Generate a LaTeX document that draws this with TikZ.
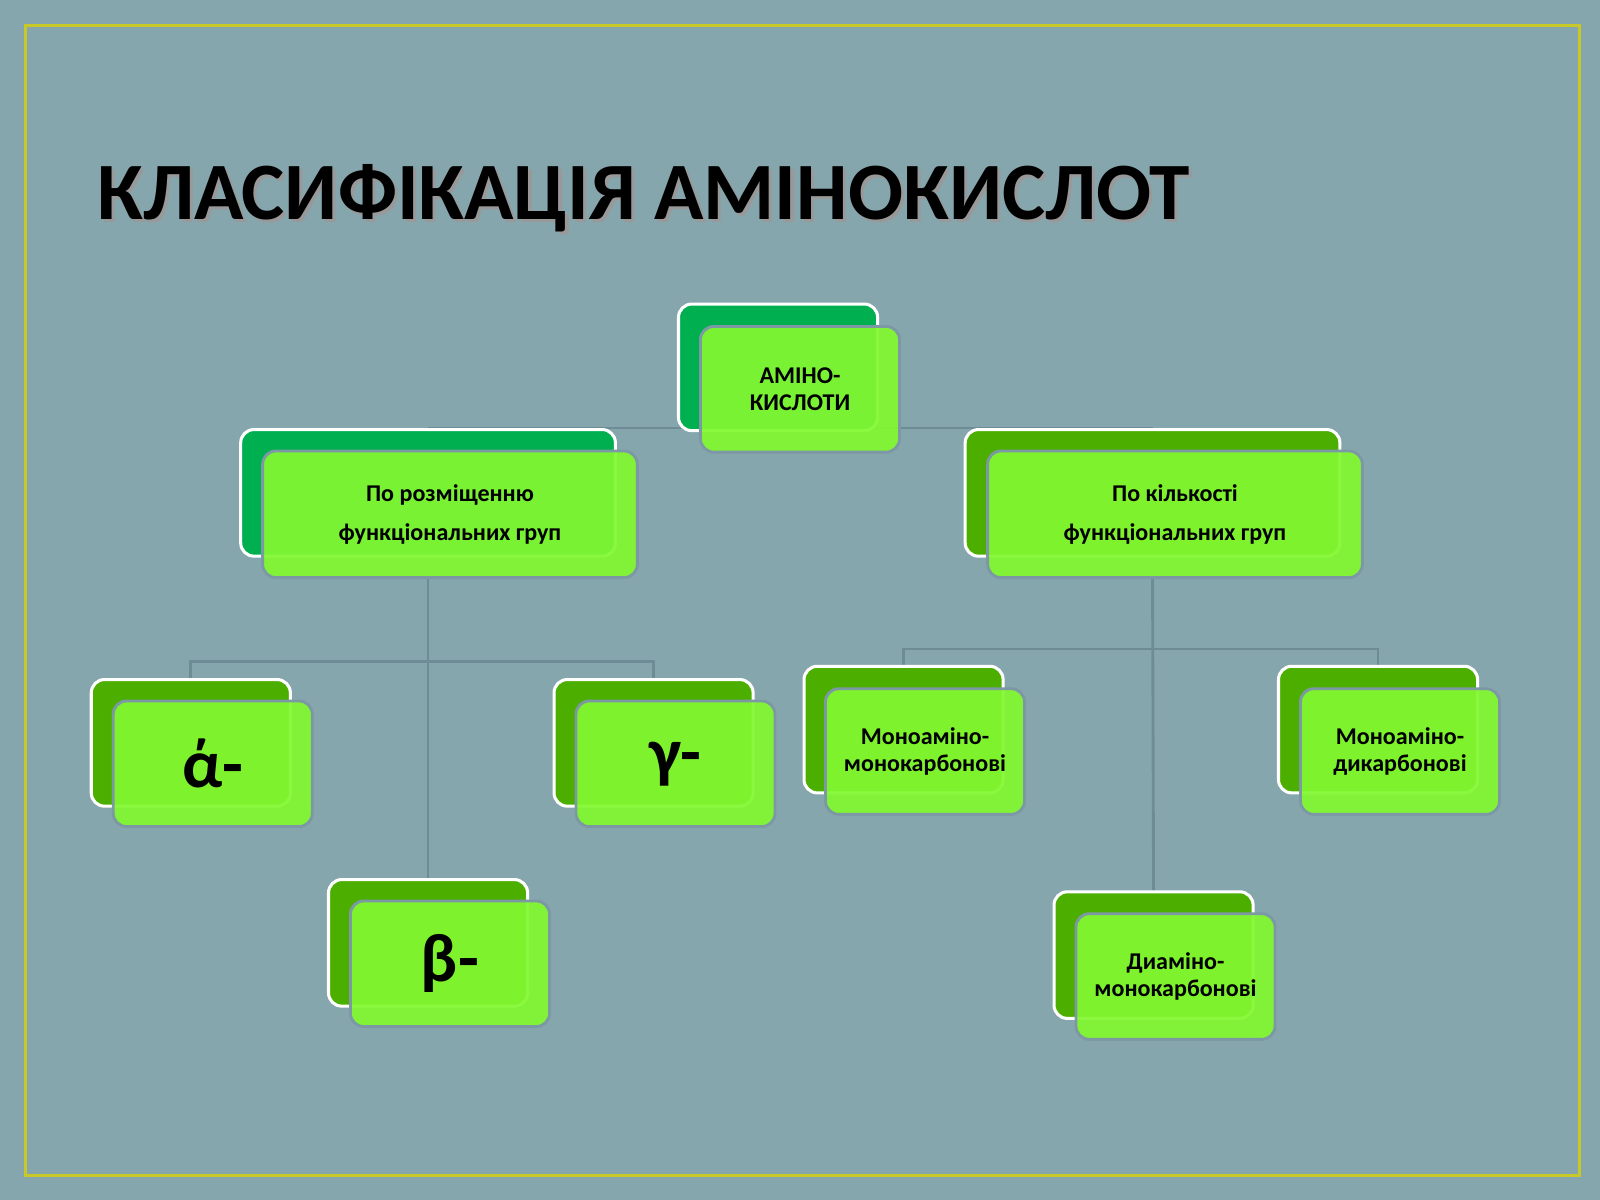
\documentclass[tikz,border=0pt]{standalone}
\usepackage{fontspec}
\setmainfont{Carlito}
\pgfdeclarelayer{bgl}\pgfdeclarelayer{conn}
\pgfsetlayers{bgl,conn,main}
\definecolor{bgc}{HTML}{86A6AE}
\definecolor{framec}{HTML}{C8C828}
\definecolor{dkg}{HTML}{00B050}
\definecolor{mdg}{HTML}{4CAF00}
\definecolor{ltg}{HTML}{82F830}
\definecolor{edgec}{HTML}{7C98A4}
\definecolor{linec}{HTML}{6E8C96}
\tikzset{
 x=0.01cm,y=-0.01cm,
 backbox/.style={draw=white,line width=0.85pt,rounded corners=0.13cm,minimum width=1.95cm,minimum height=1.24cm,inner sep=0pt},
 frontbox/.style={draw=edgec,line width=0.8pt,fill=ltg,fill opacity=0.93,text opacity=1,rounded corners=0.13cm,minimum width=1.95cm,minimum height=1.23cm,inner sep=0pt,align=center,font=\fontsize{6.7pt}{7.6pt}\selectfont\bfseries},
 wide/.style={minimum width=3.67cm},
 big/.style={font=\fontsize{19pt}{20pt}\selectfont\bfseries},
 conline/.style={draw=linec,line width=0.8pt}
}
\begin{document}
\begin{tikzpicture}
\begin{pgfonlayer}{bgl}
\fill[bgc] (0,0) rectangle (1568,1176);
\end{pgfonlayer}
\useasboundingbox (0,0) rectangle (1568,1176);
\draw[framec,line width=0.85pt] (25,25) rectangle (1548,1152);
\node[anchor=base west,font=\fontsize{22.7pt}{24pt}\selectfont\bfseries,text=black!40,inner sep=0] at (98,218) {КЛАСИФІКАЦІЯ АМІНОКИСЛОТ};
\node[anchor=base west,font=\fontsize{22.7pt}{24pt}\selectfont\bfseries,inner sep=0] (title) at (95,215) {КЛАСИФІКАЦІЯ АМІНОКИСЛОТ};
% root
\node[backbox,fill=dkg] (rb) at (762.5,360) {};
\node[frontbox] (rf) at (784,381.5) {АМІНО-\\КИСЛОТИ};
% level 1
\node[backbox,wide,fill=dkg] (lb) at (419.5,483) {};
\node[frontbox,wide,minimum height=1.24cm] (lf) at (441,504) {По розміщенню\\[1.0ex]функціональних груп};
\node[backbox,wide,fill=mdg] (gb) at (1129.5,483) {};
\node[frontbox,wide,minimum height=1.24cm] (gf) at (1151.5,504) {По кількості\\[1.0ex]функціональних груп};
% left leaves
\node[backbox,fill=mdg] (ab) at (187,728) {};
\node[frontbox,big] (af) at (208.5,748.5) {ά-};
\node[backbox,fill=mdg] (cb) at (640.5,728) {};
\node[frontbox,big] (cf) at (662,748.5) {γ-};
\node[backbox,fill=mdg] (bb) at (419.5,924) {};
\node[frontbox,big] (bf) at (441,944.5) {β-};
% right leaves
\node[backbox,fill=mdg] (mb) at (885.5,715) {};
\node[frontbox] (mf) at (906.5,736.5) {Моноаміно-\\монокарбонові};
\node[backbox,fill=mdg] (db) at (1350.5,715) {};
\node[frontbox] (df) at (1372,736.5) {Моноаміно-\\дикарбонові};
\node[backbox,fill=mdg] (xb) at (1130.5,936) {};
\node[frontbox] (xf) at (1152,957) {Диаміно-\\монокарбонові};
\begin{pgfonlayer}{conn}
\draw[conline] (lb.north) -- (gb.north);
\draw[conline] (lf.south -| lb.north) -- (bb.north);
\draw[conline] (ab.north) |- (419.5,648) -| (cb.north);
\draw[conline] (gf.south -| gb.north) -- (xb.north);
\draw[conline] (mb.north) |- (1129.5,636) -| (db.north);
\end{pgfonlayer}
\end{tikzpicture}
\end{document}
